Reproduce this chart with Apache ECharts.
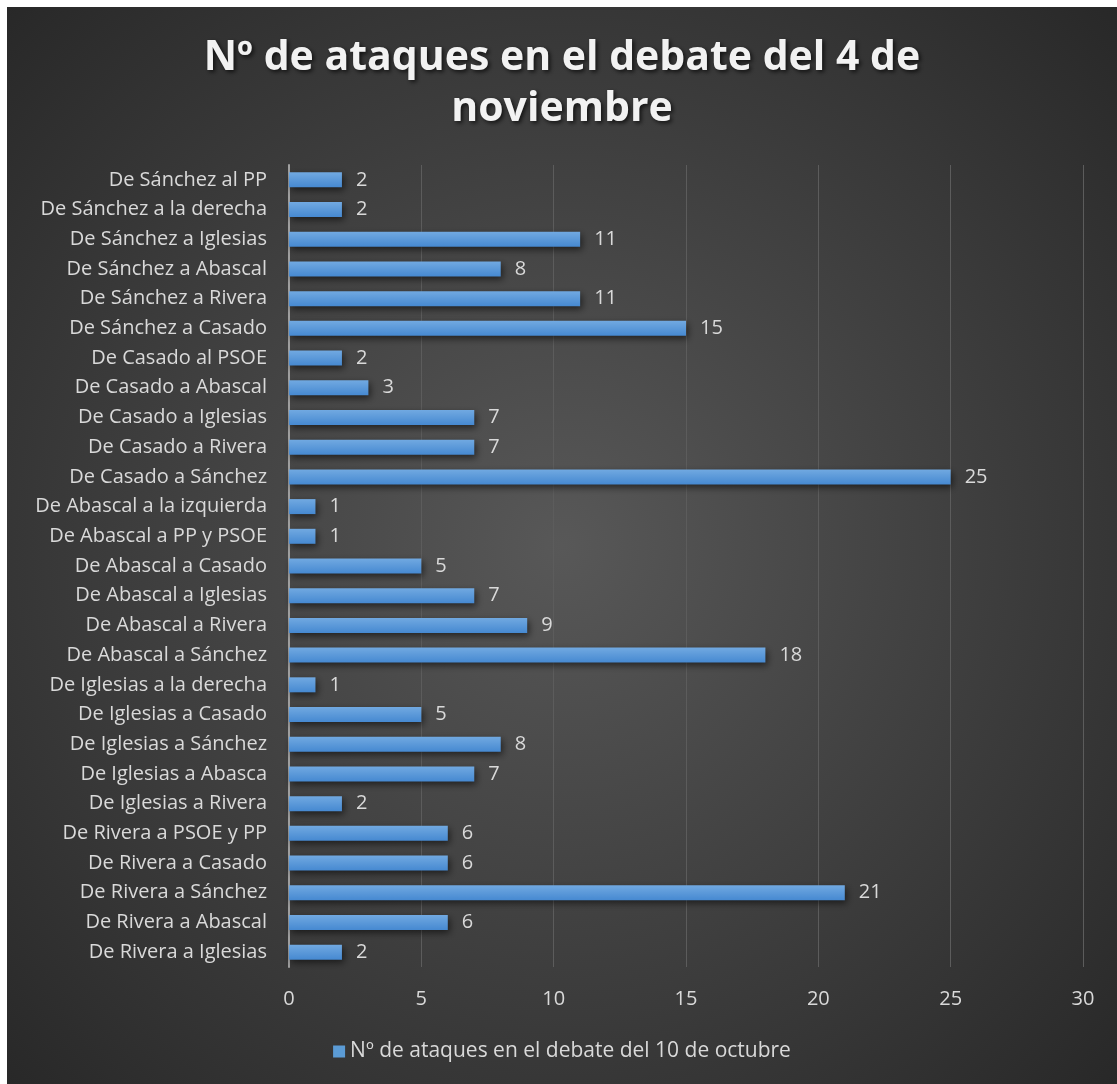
<!DOCTYPE html>
<html>
<head>
<meta charset="utf-8">
<script src="https://cdn.jsdelivr.net/npm/echarts@6/dist/echarts.min.js"></script>
<style>
html,body{margin:0;padding:0;background:#ffffff;}
#c{position:absolute;left:7px;top:7px;width:1110px;height:1077px;}
</style>
</head>
<body>
<div id="c"></div>
<script>
const titleText = 'Nº de ataques en el debate del 4 de\nnoviembre';
const seriesName = 'Nº de ataques en el debate del 10 de octubre';
const categories = [
  'De Sánchez al PP','De Sánchez a la derecha','De Sánchez a Iglesias','De Sánchez a Abascal',
  'De Sánchez a Rivera','De Sánchez a Casado','De Casado al PSOE','De Casado a Abascal',
  'De Casado a Iglesias','De Casado a Rivera','De Casado a Sánchez','De Abascal a la izquierda',
  'De Abascal a PP y PSOE','De Abascal a Casado','De Abascal a Iglesias','De Abascal a Rivera',
  'De Abascal a Sánchez','De Iglesias a la derecha','De Iglesias a Casado','De Iglesias a Sánchez',
  'De Iglesias a Abasca','De Iglesias a Rivera','De Rivera a PSOE y PP','De Rivera a Casado',
  'De Rivera a Sánchez','De Rivera a Abascal','De Rivera a Iglesias'
];
const values = [2,2,11,8,11,15,2,3,7,7,25,1,1,5,7,9,18,1,5,8,7,2,6,6,21,6,2];
const xMin = 0, xMax = 30, xInterval = 5;

const chart = echarts.init(document.getElementById('c'));
const FONT = '"Open Sans", "DejaVu Sans", sans-serif';
chart.setOption({
  backgroundColor: new echarts.graphic.RadialGradient(0.5, 0.5, 0.75, [
    {offset: 0, color: '#585858'},
    {offset: 1, color: '#262626'}
  ]),
  animation: false,
  title: {
    text: titleText,
    left: 'center',
    top: 21,
    textStyle: {
      color: '#f2f2f2', fontFamily: FONT, fontWeight: 'bold', fontSize: 41, lineHeight: 51,
      textShadowColor: 'rgba(0,0,0,0.7)', textShadowBlur: 4, textShadowOffsetX: 2, textShadowOffsetY: 2
    }
  },
  legend: {
    bottom: 17,
    left: 'center',
    itemWidth: 12, itemHeight: 12, itemGap: 4,
    icon: 'rect',
    textStyle: {color: '#d9d9d9', fontFamily: FONT, fontSize: 21},
    data: [{name: seriesName, itemStyle: {color: '#5b9bd5', shadowBlur: 0}}]
  },
  grid: {left: 282, right: 34, top: 158, bottom: 117, containLabel: false},
  xAxis: {
    type: 'value', min: xMin, max: xMax, interval: xInterval,
    axisLine: {show: false}, axisTick: {show: false},
    splitLine: {show: true, lineStyle: {color: '#5c5c5c', width: 1}},
    axisLabel: {color: '#d9d9d9', fontFamily: FONT, fontSize: 20, margin: 22}
  },
  yAxis: {
    type: 'category', inverse: true, data: categories,
    axisLine: {show: true, lineStyle: {color: '#a0a0a0', width: 2}},
    axisTick: {show: false},
    axisLabel: {color: '#d9d9d9', fontFamily: FONT, fontSize: 20, margin: 22}
  },
  series: [{
    name: seriesName,
    type: 'bar',
    data: values,
    barWidth: 15,
    itemStyle: {
      color: new echarts.graphic.LinearGradient(0, 0, 0, 1, [
        {offset: 0, color: '#71a9e1'},
        {offset: 1, color: '#4689d1'}
      ]),
      shadowColor: 'rgba(0,0,0,0.55)', shadowBlur: 7, shadowOffsetX: 2, shadowOffsetY: 3
    },
    label: {
      show: true, position: 'right', distance: 14,
      color: '#d9d9d9', fontFamily: FONT, fontSize: 20
    }
  }]
});
</script>
</body>
</html>
